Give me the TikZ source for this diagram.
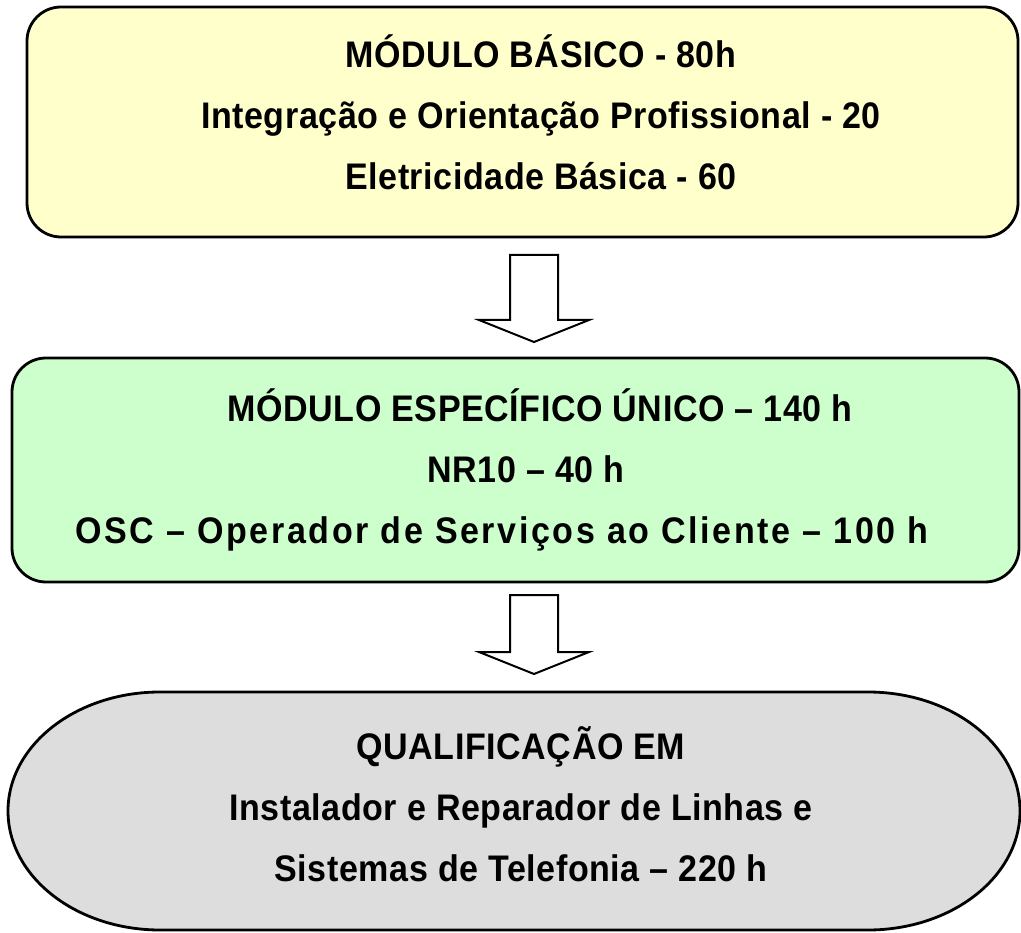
\documentclass[tikz,border=0pt]{standalone}
\usepackage{fontspec}
\setmainfont{Liberation Sans}[FakeStretch=0.92,LetterSpace=1.5]
\usetikzlibrary{calc}
\usepackage{xcolor}
\definecolor{basicoyellow}{RGB}{255, 255, 204}
\definecolor{especificogreen}{RGB}{204, 255, 204}
\definecolor{qualifgrey}{RGB}{221, 221, 221}

\begin{document}
\begin{tikzpicture}[x=1pt, y=-1pt,
    modulebox/.style={rectangle, rounded corners=34pt, draw=black, line width=2.8pt},
    moduletext/.style={align=center, font=\fontsize{37}{61}\selectfont\bfseries},
    blockarrow/.style={draw=black, line width=2pt, fill=white, line join=miter}]
                \useasboundingbox (0,0) rectangle (1021,933);

                % Basic module
                \node[modulebox, fill=basicoyellow, minimum width=991pt, minimum height=230pt] (basico) at (522.5,122) {};
                \node[moduletext] (basicotext) at (541,112) {MÓDULO BÁSICO - 80h\\Integração e Orientação Profissional - 20\\Eletricidade Básica - 60};

                % Arrow
                \coordinate (arrowtop1) at (534,255);
                \coordinate (arrowtip1) at (534,342);
                \draw[blockarrow] (arrowtop1) ++(-24,0) -- ++(48,0) -- ++(0,65) -- ++(31,0) -- (arrowtip1) -- ++(-55,-22) -- ++(31,0) -- cycle;

                % Specific module
                \node[modulebox, fill=especificogreen, minimum width=1007pt, minimum height=224pt] (especifico) at (515.5,470) {};
                \node[moduletext] (especificotext) at (515,470) {\hspace*{50pt}MÓDULO ESPECÍFICO ÚNICO – 140 h\\\hspace*{22pt}NR10 – 40 h\\\hspace*{-26pt}{\addfontfeature{LetterSpace=7}OSC – Operador de Serviços ao Cliente – 100 h}};

                % Arrow
                \coordinate (arrowtop2) at (534,595);
                \coordinate (arrowtip2) at (534,674);
                \draw[blockarrow] (arrowtop2) ++(-24,0) -- ++(48,0) -- ++(0,57) -- ++(31,0) -- (arrowtip2) -- ++(-55,-22) -- ++(31,0) -- cycle;

                % Qualification
                \draw[fill=qualifgrey, draw=black, line width=2.8pt] (160,692) -- (868,692)
                    arc[start angle=90, end angle=-90, x radius=152pt, y radius=119pt] -- (160,930)
                    arc[start angle=-90, end angle=-270, x radius=152pt, y radius=119pt] -- cycle;
                \node[moduletext] (qualif) at (521,804) {QUALIFICAÇÃO EM\\Instalador e Reparador de Linhas e\\Sistemas de Telefonia – 220 h};
            \end{tikzpicture}
\end{document}
